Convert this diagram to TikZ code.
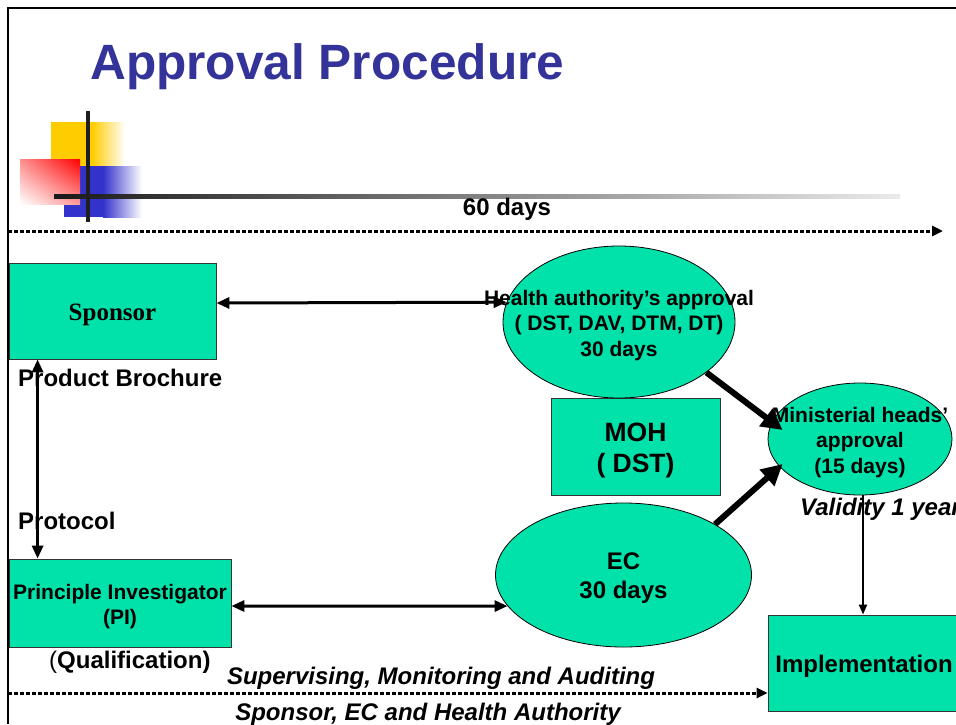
\documentclass[tikz,border=0pt]{standalone}
\usepackage{fontspec}
\setmainfont{Liberation Sans}
\newfontfamily\serifb{Liberation Serif}
\usetikzlibrary{arrows.meta,shapes.geometric,shadings}
\definecolor{mint}{RGB}{0,226,170}
\definecolor{titleblue}{RGB}{51,51,153}
\definecolor{logoyellow}{RGB}{255,204,0}
\definecolor{logoblue}{RGB}{51,51,204}
\definecolor{logored}{RGB}{255,0,0}
\tikzset{
  box/.style={draw=black!80, line width=0.8pt, fill=mint, inner sep=0pt},
  oval/.style={ellipse, draw=black, line width=0.8pt, fill=mint, inner sep=0pt},
  big/.style={font=\bfseries\fontsize{24}{29}\selectfont},
  mid/.style={font=\bfseries\fontsize{21}{25.5}\selectfont},
  inlbl/.style={align=center, inner sep=0pt, yshift=-3.5pt},
  txt/.style={inner sep=0pt, font=\bfseries\fontsize{24}{29}\selectfont},
  itxt/.style={inner sep=0pt, font=\bfseries\itshape\fontsize{24}{29}\selectfont},
  dbl/.style={line width=3pt, {Triangle[length=13pt,width=11pt]}-{Triangle[length=13pt,width=11pt]}},
  fat/.style={line width=6pt, -{Triangle[length=21pt,width=21pt]}},
  thin/.style={line width=2pt, -{Triangle[length=10pt,width=8pt]}},
  dots/.style={line width=3pt, dash pattern=on 3.5pt off 2.5pt, -{Triangle[length=11pt,width=10pt]}}
}
\begin{document}
\begin{tikzpicture}[x=1pt,y=-1pt]
\useasboundingbox (0,0) rectangle (956,724);
% frame
\draw[line width=2.5pt] (8,724) -- (8,8) -- (956,8);
% logo
\fill[logoyellow] (51,122) rectangle (92,167);
\shade[left color=logoyellow,right color=white] (92,122) rectangle (125,167);
\fill[logoblue] (64,166) rectangle (103,217);
\shade[left color=logoblue,right color=white] (103,166) rectangle (142,217);
\shade[upper right=logored, lower left=white, upper left=logored!45, lower right=logored!40] (20,159) rectangle (80,204);
\shade[left color=black!90,right color=black!8] (54,194) rectangle (900,198);
\fill[black!88] (86,111) rectangle (90,222);
% title
\node[anchor=base west, inner sep=0pt, text=titleblue, font=\bfseries\fontsize{49.6}{52}\selectfont] (title) at (90,79) {Approval Procedure};
% timeline
\coordinate (t1) at (8,231);
\coordinate (t2) at (943,231);
\draw[dots] (t1) -- (t2);
\node[txt, anchor=base] (sixty) at (507,215) {60 days};
% nodes
\node[box, minimum width=207pt, minimum height=96pt,
  label={[inlbl, font=\serifb\bfseries\fontsize{25}{29}\selectfont]center:Sponsor}] (sponsor) at (112.5,311) {};
\node[box, minimum width=222pt, minimum height=88pt,
  label={[inlbl, mid]center:Principle Investigator\\(PI)}] (pi) at (120,603) {};
\node[box, minimum width=169pt, minimum height=97pt,
  label={[inlbl, font=\bfseries\fontsize{26.5}{31}\selectfont]center:MOH\\( DST)}] (moh) at (635.5,447) {};
\node[box, minimum width=192pt, minimum height=96pt,
  label={[inlbl, big]center:Implementation}] (impl) at (864,663) {};
\node[oval, minimum width=232pt, minimum height=152pt,
  label={[inlbl, mid]center:Health authority’s approval\\( DST, DAV, DTM, DT)\\30 days}] (ha) at (619,322) {};
\node[oval, minimum width=256pt, minimum height=144pt,
  label={[inlbl, big]center:EC\\30 days}] (ec) at (623.5,575) {};
\node[oval, minimum width=184pt, minimum height=112pt,
  label={[inlbl, mid]center:Ministerial heads’\\approval\\(15 days)}] (min) at (860,439) {};
% labels
\node[txt, anchor=base west] (pb) at (18,386) {Product Brochure};
\node[txt, anchor=base west] (proto) at (18,529) {Protocol};
\node[txt, anchor=base west] (qual) at (49,668) {{\mdseries(}Qualification)};
\node[itxt, anchor=base west] (valid) at (800,515) {Validity 1 year};
\node[itxt, anchor=base] (sup) at (441,684) {Supervising, Monitoring and Auditing};
\node[itxt, anchor=base] (who) at (428,720) {Sponsor, EC and Health Authority};
% connectors
\draw[dbl] ([yshift=8pt]sponsor.east) -- (ha.170);
\draw[dbl] ([xshift=29pt]sponsor.south west) -- ([xshift=29pt]pi.north west);
\draw[dbl] ([yshift=-3pt]pi.east) -- (ec.195);
\draw[fat] (ha.-30) -- ([shift={(15pt,9pt)}]min.west);
\draw[fat] (ec.29) -- ([shift={(15pt,-25pt)}]min.west);
\draw[thin] ([xshift=3pt]min.south) -- ([xshift=3pt]min.south |- impl.north);
\coordinate (b1) at (8,693);
\draw[dots] (b1) -- (b1 -| impl.west);
\end{tikzpicture}
\end{document}
